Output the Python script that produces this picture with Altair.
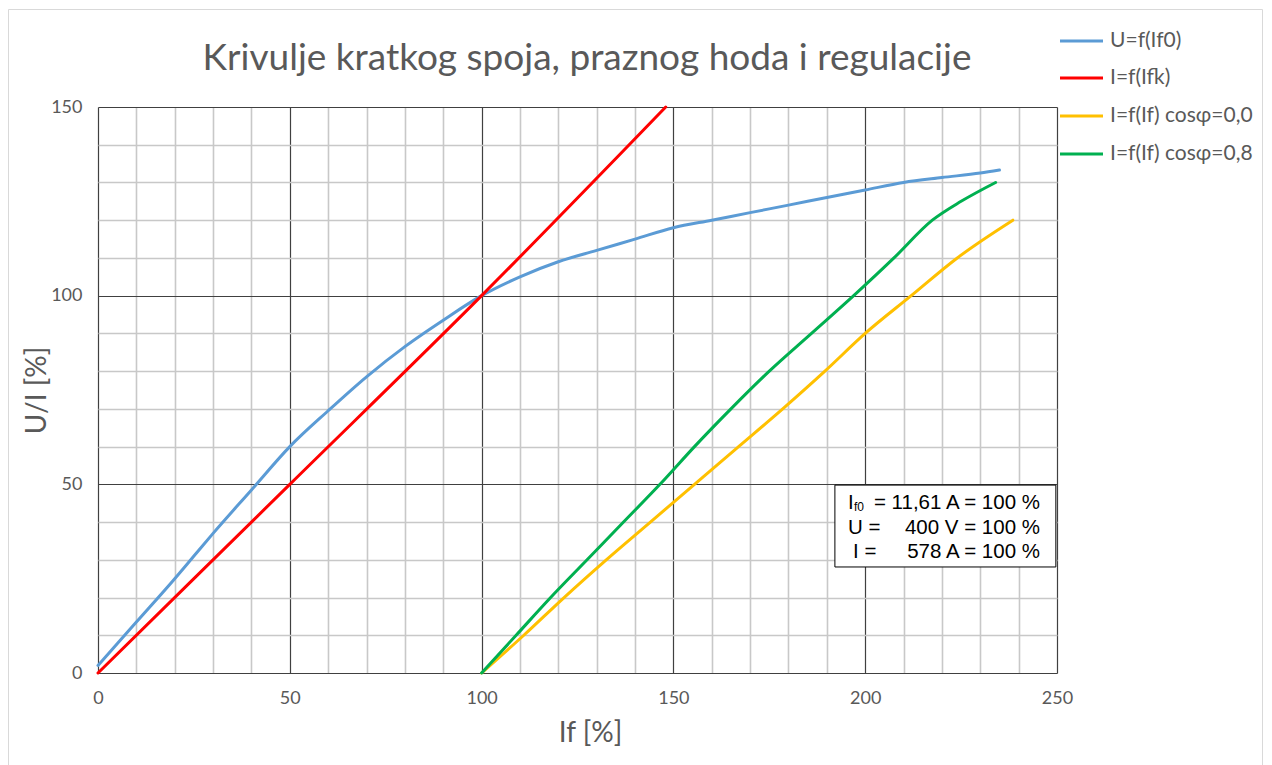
import altair as alt
import pandas as pd

# ---- data ----
blue_x = [0, 10, 20, 25, 30, 40, 50, 60, 70, 80, 90, 100, 110, 120, 130, 140, 150, 160, 170, 180, 190, 200, 210, 220, 230, 235]
blue_y = [2, 13.5, 25, 31, 37, 48.5, 60, 69.5, 78.5, 86.5, 93.5, 100, 105, 109, 112, 115, 118, 120, 122, 124, 126, 128, 130, 131.3, 132.5, 133.3]

red_x = [0, 50, 100, 148]
red_y = [0, 50, 100, 150]

yellow_x = [100, 111, 121.5, 132.5, 144, 155.5, 167, 178.5, 189.5, 200, 212, 224, 238.5]
yellow_y = [0, 10, 20, 30, 40, 50, 60, 70, 80, 90, 100, 110, 120]

green_x = [100, 109, 118, 127.5, 137, 146.5, 155.5, 165, 175, 186, 197, 207.5, 217.5, 225, 234]
green_y = [0, 10, 20, 30, 40, 50, 60, 70, 80, 90, 100, 110, 120, 125, 130]

series_names = ["U=f(If0)", "I=f(Ifk)", "I=f(If) cosφ=0,0", "I=f(If) cosφ=0,8"]
series_colors = ["#5B9BD5", "#FF0000", "#FFC000", "#00B050"]

x_ticks = [0, 10, 20, 30, 40, 50, 60, 70, 80, 90, 100, 110, 120, 130, 140, 150, 160, 170, 180, 190, 200, 210, 220, 230, 240, 250]
y_ticks = [0, 10, 20, 30, 40, 50, 60, 70, 80, 90, 100, 110, 120, 130, 140, 150]

title_text = "Krivulje kratkog spoja, praznog hoda i regulacije"
x_title = "If [%]"
y_title = "U/I [%]"

W, H = 959, 566
GREY = "#595959"
FONT = "Lato"

series_data = [(blue_x, blue_y), (red_x, red_y), (yellow_x, yellow_y), (green_x, green_y)]

grid_color = {"condition": {"test": "datum.value % 50 === 0", "value": "#404040"}, "value": "#c8c8c8"}
grid_width = {"condition": {"test": "datum.value % 50 === 0", "value": 1.2}, "value": 1.6}

x_scale = alt.Scale(domain=[0, 250], nice=False, zero=False)
y_scale = alt.Scale(domain=[0, 150], nice=False, zero=False)

x_axis = alt.Axis(values=x_ticks, grid=True, gridColor=grid_color, gridWidth=grid_width,
                  domain=False, ticks=False, tickSize=0, labelFlush=False,
                  labelExpr="datum.value % 50 === 0 ? datum.label : ''",
                  labelFont=FONT, labelFontSize=18, labelColor=GREY, labelPadding=16,
                  title=x_title, titleFont=FONT, titleFontSize=28, titleColor=GREY,
                  titleFontWeight="normal", titleX=492, titleY=68, titleBaseline="alphabetic",
                  titleAlign="center")
y_axis = alt.Axis(values=y_ticks, grid=True, gridColor=grid_color, gridWidth=grid_width,
                  domain=False, ticks=False, tickSize=0, labelFlush=False,
                  labelExpr="datum.value % 50 === 0 ? datum.label : ''",
                  labelFont=FONT, labelFontSize=18, labelColor=GREY, labelPadding=16,
                  title=y_title, titleFont=FONT, titleFontSize=28, titleColor=GREY,
                  titleFontWeight="normal", titleX=-53, titleY=283, titleAngle=270,
                  titleBaseline="alphabetic", titleAlign="center")

layers = []
for i, (name, color) in enumerate(zip(series_names, series_colors)):
    xs, ys = series_data[i]
    df = pd.DataFrame({"If": xs, "UI": ys, "serie": name})
    layers.append(
        alt.Chart(df).mark_line(color=color, strokeWidth=3, interpolate="monotone",
                                strokeCap="round", strokeJoin="round")
        .encode(x=alt.X("If:Q", scale=x_scale, axis=x_axis),
                y=alt.Y("UI:Q", scale=y_scale, axis=y_axis))
    )

# info box
box_x = [192.1]
box_x2 = [249.7]
box_y = [49.8]
box_y2 = [28.1]
box = alt.Chart(pd.DataFrame({"If": box_x, "x2": box_x2, "UI": box_y, "y2": box_y2})).mark_rect(
    fill="white", stroke="#000000", strokeWidth=1
).encode(x=alt.X("If:Q", scale=x_scale, axis=x_axis), x2="x2:Q",
         y=alt.Y("UI:Q", scale=y_scale, axis=y_axis), y2="y2:Q")

# manual legend
legend_y = [-66, -29, 9, 47]
legend_rules = alt.layer(*[
    alt.Chart(pd.DataFrame({"serie": [n]})).mark_rule(strokeWidth=3, color=c).encode(
        x=alt.value(962), x2=alt.value(1005), y=alt.value(ly))
    for n, c, ly in zip(series_names, series_colors, legend_y)
])
legend_text = alt.layer(*[
    alt.Chart(pd.DataFrame({"serie": [n]})).mark_text(
        align="left", baseline="middle", font=FONT, fontSize=21, color=GREY).encode(
        x=alt.value(1012), y=alt.value(ly), text="serie:N")
    for n, ly in zip(series_names, legend_y)
])

# title
title_mark = alt.Chart(pd.DataFrame({"t": [title_text]})).mark_text(
    align="center", baseline="alphabetic", font=FONT, fontSize=37, color=GREY
).encode(x=alt.value(489), y=alt.value(-37), text="t:N")

# outer chart border
border = alt.Chart(pd.DataFrame({"a": [0]})).mark_rect(
    filled=False, stroke="#d9d9d9", strokeWidth=1
).encode(x=alt.value(-89.5), x2=alt.value(1164.5), y=alt.value(-97.5), y2=alt.value(700))

info_left = ["I", "U =", "I ="]
info_left_x = [750, 750, 755]
info_right = ["= 11,61 A = 100 %", "400 V = 100 %", "578 A = 100 %"]
info_y = [402, 427, 451]
BOXFONT = "Liberation Sans"
info_l = alt.layer(*[
    alt.Chart(pd.DataFrame({"t": [t]})).mark_text(
        align="left", baseline="alphabetic", font=BOXFONT, fontSize=20.5, color="#000000").encode(
        x=alt.value(lx), y=alt.value(ty), text="t:N")
    for t, lx, ty in zip(info_left, info_left_x, info_y)
])
info_r = alt.layer(*[
    alt.Chart(pd.DataFrame({"t": [t]})).mark_text(
        align="right", baseline="alphabetic", font=BOXFONT, fontSize=20.5, color="#000000").encode(
        x=alt.value(942), y=alt.value(ty), text="t:N")
    for t, ty in zip(info_right, info_y)
])
info_sub = alt.Chart(pd.DataFrame({"s": ["f0"]})).mark_text(
    align="left", baseline="alphabetic", font=BOXFONT, fontSize=12, color="#000000"
).encode(x=alt.value(756), y=alt.value(404), text="s:N")

chart = alt.layer(
    *layers, box, info_l, info_r, info_sub, legend_rules, legend_text, title_mark, border
).properties(
    width=W, height=H,
    autosize=alt.AutoSizeParams(type="none"),
    padding={"left": 90, "top": 99, "right": 207, "bottom": 92},
    background="white",
).configure_view(stroke=None)

chart.save("out.html", embed_options={"renderer": "svg", "actions": False})
